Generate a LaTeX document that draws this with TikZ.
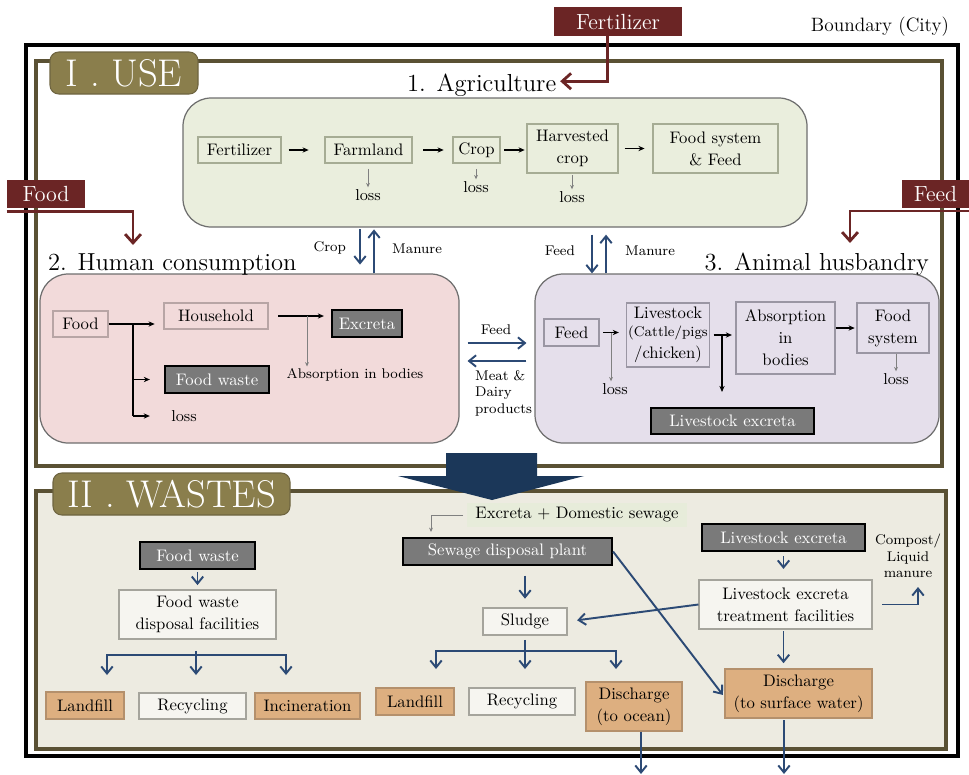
\documentclass[tikz,border=0pt]{standalone}
\usetikzlibrary{arrows.meta}
\definecolor{dred}{HTML}{6B2525}
\definecolor{tabc}{HTML}{8A7E4C}
\definecolor{tabd}{HTML}{6E6440}
\definecolor{framec}{HTML}{5A5134}
\definecolor{agfill}{HTML}{EAEEDD}
\definecolor{agbd}{HTML}{A6AC94}
\definecolor{pnbd}{HTML}{6E6E6E}
\definecolor{pkfill}{HTML}{F2DADA}
\definecolor{pkbd}{HTML}{B8A5A5}
\definecolor{lvfill}{HTML}{E5DFEB}
\definecolor{lvbd}{HTML}{9A96A3}
\definecolor{wbg}{HTML}{EDEBE1}
\definecolor{wfill}{HTML}{F6F5F0}
\definecolor{wbd}{HTML}{A5A49C}
\definecolor{dgray}{HTML}{7A7A7A}
\definecolor{ofill}{HTML}{DDAF80}
\definecolor{obd}{HTML}{B4906C}
\definecolor{barc}{HTML}{2C4A75}
\definecolor{bigc}{HTML}{1B3759}
\definecolor{edsfill}{HTML}{E7ECDA}
\newcommand\boxat[7]{\node[#2, minimum width={(#5-#3)*0.02cm}, minimum height={(#6-#4)*0.02cm}] (#1) at ({(#3+#5)/2},{(#4+#6)/2}) {#7};}
\begin{document}
\begin{tikzpicture}[x=0.02cm,y=-0.02cm,
 every node/.style={inner sep=1pt, align=center},
 fnt/.style={font=\fontsize{9.5}{12.5}\selectfont},
 abox/.style={draw=agbd, line width=0.6pt, fnt},
 pbox/.style={draw=pkbd, line width=0.6pt, fnt},
 lbox/.style={draw=lvbd, line width=0.6pt, fnt},
 dbox/.style={draw=black, fill=dgray, line width=1.2pt, text=white, fnt},
 obox/.style={draw=obd, fill=ofill, line width=0.6pt, fnt},
 wbox/.style={draw=wbd, fill=wfill, line width=0.6pt, fnt},
 rbox/.style={fill=dred, text=white, font=\fontsize{12.5}{14}\selectfont},
 barr/.style={draw=barc, line width=1.1pt, -{Straight Barb[length=4pt,width=6.5pt]}},
 bline/.style={draw=barc, line width=1.1pt},
 karr/.style={draw=black, line width=0.6pt, -{Stealth[length=3.5pt,width=3pt]}},
 kline/.style={draw=black, line width=0.6pt},
 garr/.style={draw=gray, line width=0.45pt, -{Stealth[length=2.5pt,width=2.2pt]}},
 rarr/.style={draw=dred, line width=1.6pt, -{Straight Barb[length=5pt,width=9pt]}},
 lblsmall/.style={font=\fontsize{8}{9.5}\selectfont},
 lossf/.style={font=\fontsize{9}{10}\selectfont},
 ttl/.style={font=\fontsize{14}{16}\selectfont},
 tabbox/.style={fill=tabc, draw=tabd, line width=0.6pt, rounded corners=5pt, text=white, font=\fontsize{22}{24}\selectfont},
 panelbox/.style={draw=pnbd, line width=0.7pt, rounded corners=16pt},
]
\useasboundingbox (0,0) rectangle (969,774);

% frames
\draw[line width=2.4pt] (26,45) rectangle (958,756);
\draw[draw=framec, line width=1.8pt] (36,61) rectangle (942,466);
\draw[draw=framec, fill=wbg, line width=1.8pt] (36,491) rectangle (946,749);

% tabs
\boxat{usetab}{tabbox}{50}{52}{198}{94}{I . USE}
\boxat{wtab}{tabbox}{53}{473}{290}{515}{II . WASTES}

% boundary label
\node[anchor=east, font=\fontsize{11}{12}\selectfont] (bnd) at (951,27) {Boundary (City)};

% big arrow
\fill[bigc] (446,453) -- (537,453) -- (537,476) -- (584,476) -- (492,500) -- (398,476) -- (446,476) -- cycle;

% panels
\boxat{agp}{panelbox, fill=agfill}{183}{98}{807}{227}{}
\boxat{hcp}{panelbox, fill=pkfill}{40}{274}{459}{443}{}
\boxat{ap}{panelbox, fill=lvfill}{535}{274}{939}{443}{}

% titles
\node[ttl, anchor=base west] (agt) at (405,91) {1. Agriculture};
\node[ttl, anchor=base west] (hct) at (46,270) {2. Human consumption};
\node[ttl, anchor=base east] (aht) at (931,270) {3. Animal husbandry};

% agriculture
\boxat{fert}{abox}{198}{137}{281}{163}{Fertilizer}
\boxat{farm}{abox}{325}{137}{412}{163}{Farmland}
\boxat{crop}{abox}{453}{137}{500}{163}{Crop}
\boxat{harv}{abox}{527}{124}{618}{173}{Harvested\\crop}
\boxat{fsf}{abox}{653}{124}{778}{173}{Food system\\\& Feed}
\draw[karr, shorten <=4pt, shorten >=9pt] (fert.east) -- (farm.west);
\draw[karr, shorten <=6pt, shorten >=5pt] (farm.east) -- (crop.west);
\draw[karr, shorten <=2pt, shorten >=1pt] (crop.east) -- (crop.east -| harv.west);
\draw[karr, shorten <=3.5pt, shorten >=4.5pt] (harv.east) -- (fsf.west);
\node[lossf] (l1) at (368,195) {loss};
\node[lossf] (l2) at (476,187) {loss};
\node[lossf] (l3) at (572,197) {loss};
\draw[garr, shorten <=3pt] (l1.north |- farm.south) -- (l1.north);
\draw[garr, shorten <=3pt] (l2.north |- crop.south) -- (l2.north);
\draw[garr, shorten <=1pt] (l3.north |- harv.south) -- (l3.north);

% agri <-> human / animal
\coordinate (c1) at (360,0);
\coordinate (c2) at (374,0);
\coordinate (c3) at (592,0);
\coordinate (c4) at (606,0);
\draw[barr, shorten <=1pt, shorten >=5pt] (agp.south -| c1) -- (hcp.north -| c1);
\draw[barr, shorten >=1pt] (hcp.north -| c2) -- (agp.south -| c2);
\draw[barr, shorten <=4pt] (agp.south -| c3) -- (ap.north -| c3);
\draw[barr, shorten >=4pt] (ap.north -| c4) -- (agp.south -| c4);
\node[lblsmall, anchor=east] (lcrop) at (348,248) {Crop};
\node[lblsmall, anchor=west] (lman1) at (390,249) {Manure};
\node[lblsmall, anchor=east] (lfeed) at (577,251) {Feed};
\node[lblsmall, anchor=west] (lman2) at (623,251) {Manure};

% human consumption
\boxat{food}{pbox}{53}{311}{108}{337}{Food}
\boxat{hh}{pbox}{164}{303}{268}{329}{Household}
\boxat{exc}{dbox}{332}{310}{402}{337}{Excreta}
\boxat{fw}{dbox}{165}{366}{269}{393}{Food waste}
\node[lossf] (lossh) at (184,416) {loss};
\node[lblsmall] (absh) at (355,375) {Absorption in bodies};
\coordinate (br) at (133,0);
\draw[karr, shorten >=5pt] (food.east) -- (food.east -| hh.west);
\draw[kline] (br |- food.east) -- (br |- lossh.west);
\draw[karr, shorten >=8pt] (br |- fw.west) -- (fw.west);
\draw[karr, shorten >=11pt] (br |- lossh.west) -- (lossh.west);
\draw[karr, shorten <=5.5pt, shorten >=4pt] (hh.east) -- (hh.east -| exc.west);
\coordinate (ax) at (307,0);
\draw[garr] (ax |- hh.east) -- (ax |- absh.north);

% human <-> animal
\draw[barr, shorten <=4.5pt, shorten >=4.5pt] ([yshift=8.8pt]hcp.east) -- ([yshift=8.8pt]ap.west);
\draw[barr, shorten <=4.5pt, shorten >=4.5pt] ([yshift=-1.4pt]ap.west) -- ([yshift=-1.4pt]hcp.east);
\node[lblsmall] (lfeed2) at (496,330) {Feed};
\node[lblsmall, anchor=north west, align=left] (lmeat) at (473,368) {Meat \&\\Dairy\\products};

% animal husbandry
\boxat{fd}{lbox}{544}{319}{599}{346}{Feed}
\boxat{ls}{lbox}{628}{303}{708}{367}{Livestock\\[-2pt]\fontsize{8}{9.5}\selectfont (Cattle/pigs\\/chicken)}
\boxat{ab}{lbox}{736}{302}{835}{374}{Absorption\\in\\bodies}
\boxat{fs}{lbox}{857}{303}{929}{353}{Food\\system}
\boxat{lse}{dbox}{651}{408}{814}{434}{Livestock excreta}
\node[lossf] (lossa) at (615,389) {loss};
\node[lossf] (lossb) at (896,379) {loss};
\coordinate (fx) at (611,0);
\coordinate (lx) at (722,392);
\draw[karr, shorten <=2pt, shorten >=4pt] (fd.east) -- (fd.east -| ls.west);
\draw[garr] (fx |- fd.east) -- (fx |- lossa.north);
\draw[karr, shorten <=2pt, shorten >=2pt] (ls.east) -- (ls.east -| ab.west);
\draw[karr] (lx |- ls.east) -- (lx);
\draw[karr, shorten >=1pt] (ab.east |- fs.west) -- (fs.west);
\draw[garr] (lossb.north |- fs.south) -- (lossb.north);

% wastes: food waste
\boxat{fw2}{dbox}{140}{542}{255}{569}{Food waste}
\boxat{fwd}{wbox}{119}{590}{276}{639}{Food waste\\disposal facilities}
\boxat{lf1}{obox}{46}{692}{124}{719}{Landfill}
\boxat{rc1}{wbox}{139}{693}{246}{719}{Recycling}
\boxat{inc}{obox}{255}{693}{360}{719}{Incineration}
\draw[barr, shorten <=1pt, shorten >=2.5pt] (fw2.south) -- (fwd.north);
\coordinate (fb) at (196,655);
\coordinate (t1) at (107,675);
\coordinate (t2) at (196,675);
\coordinate (t3) at (286,675);
\draw[bline] ([yshift=-6.5pt]fwd.south -| fb) -- (fb);
\draw[barr] (fb) -| (t1);
\draw[barr] (fb) -- (t2);
\draw[barr] (fb) -| (t3);

% wastes: sewage
\boxat{eds}{fill=edsfill, fnt}{467}{503}{687}{527}{Excreta + Domestic sewage}
\boxat{spl}{dbox}{403}{538}{612}{565}{Sewage disposal plant}
\boxat{sl}{wbox}{483}{608}{567}{635}{Sludge}
\boxat{lf2}{obox}{376}{688}{454}{715}{Landfill}
\boxat{rc2}{wbox}{469}{688}{575}{715}{Recycling}
\boxat{dso}{obox}{586}{682}{682}{731}{Discharge\\(to ocean)}
\coordinate (sx) at (431,532);
\draw[garr, shorten <=2pt] (eds.west) -| (sx);
\draw[barr, shorten <=5.5pt, shorten >=5pt] (spl.south -| sl.north) -- (sl.north);
\coordinate (sb) at (525,651);
\coordinate (u1) at (436,669);
\coordinate (u2) at (525,669);
\coordinate (u3) at (616,669);
\draw[bline, shorten <=2.5pt] (sl.south) -- (sb);
\draw[barr] (sb) -| (u1);
\draw[barr] (sb) -- (u2);
\draw[barr] (sb) -| (u3);
\coordinate (oc) at (641,774);
\draw[barr] (dso.south -| oc) -- (oc);

% wastes: livestock
\boxat{lxe}{dbox}{702}{524}{865}{551}{Livestock excreta}
\boxat{trt}{wbox}{699}{580}{872}{629}{Livestock excreta\\treatment facilities}
\boxat{dsw}{obox}{725}{669}{872}{718}{Discharge\\(to surface water)}
\draw[barr, shorten <=2.5pt, shorten >=6pt] (lxe.south) -- (lxe.south |- trt.north);
\draw[barr, shorten <=1pt, shorten >=3pt] (trt.south -| lxe.south) -- (dsw.north -| lxe.south);
\coordinate (sc) at (784,774);
\draw[barr, shorten <=1pt] (dsw.south -| sc) -- (sc);
\draw[barr, shorten >=5.5pt] (trt.west) -- (sl.east);
\draw[barr, shorten >=1.5pt] (spl.east) -- ([yshift=-2pt]dsw.west);
\coordinate (cp) at (918,587);
\draw[barr, shorten <=5.5pt] (trt.east) -| (cp);
\node[lblsmall] (cmp) at (908,556) {Compost/\\Liquid\\manure};

% external inputs
\boxat{fertin}{rbox}{554}{7}{682}{36}{Fertilizer}
\boxat{foodin}{rbox}{7}{180}{85}{208}{Food}
\boxat{feedin}{rbox}{902}{180}{969}{208}{Feed}
\coordinate (foodtip) at (133,245);
\coordinate (feedtip) at (850,243);
\draw[rarr] ([xshift=-6.2pt]fertin.south) |- ([xshift=1pt,yshift=2pt]agt.east);
\draw[rarr] ([yshift=-2pt]foodin.south west) -| (foodtip);
\draw[rarr] ([yshift=-1.5pt]feedin.south east) -| (feedtip);
\end{tikzpicture}
\end{document}
